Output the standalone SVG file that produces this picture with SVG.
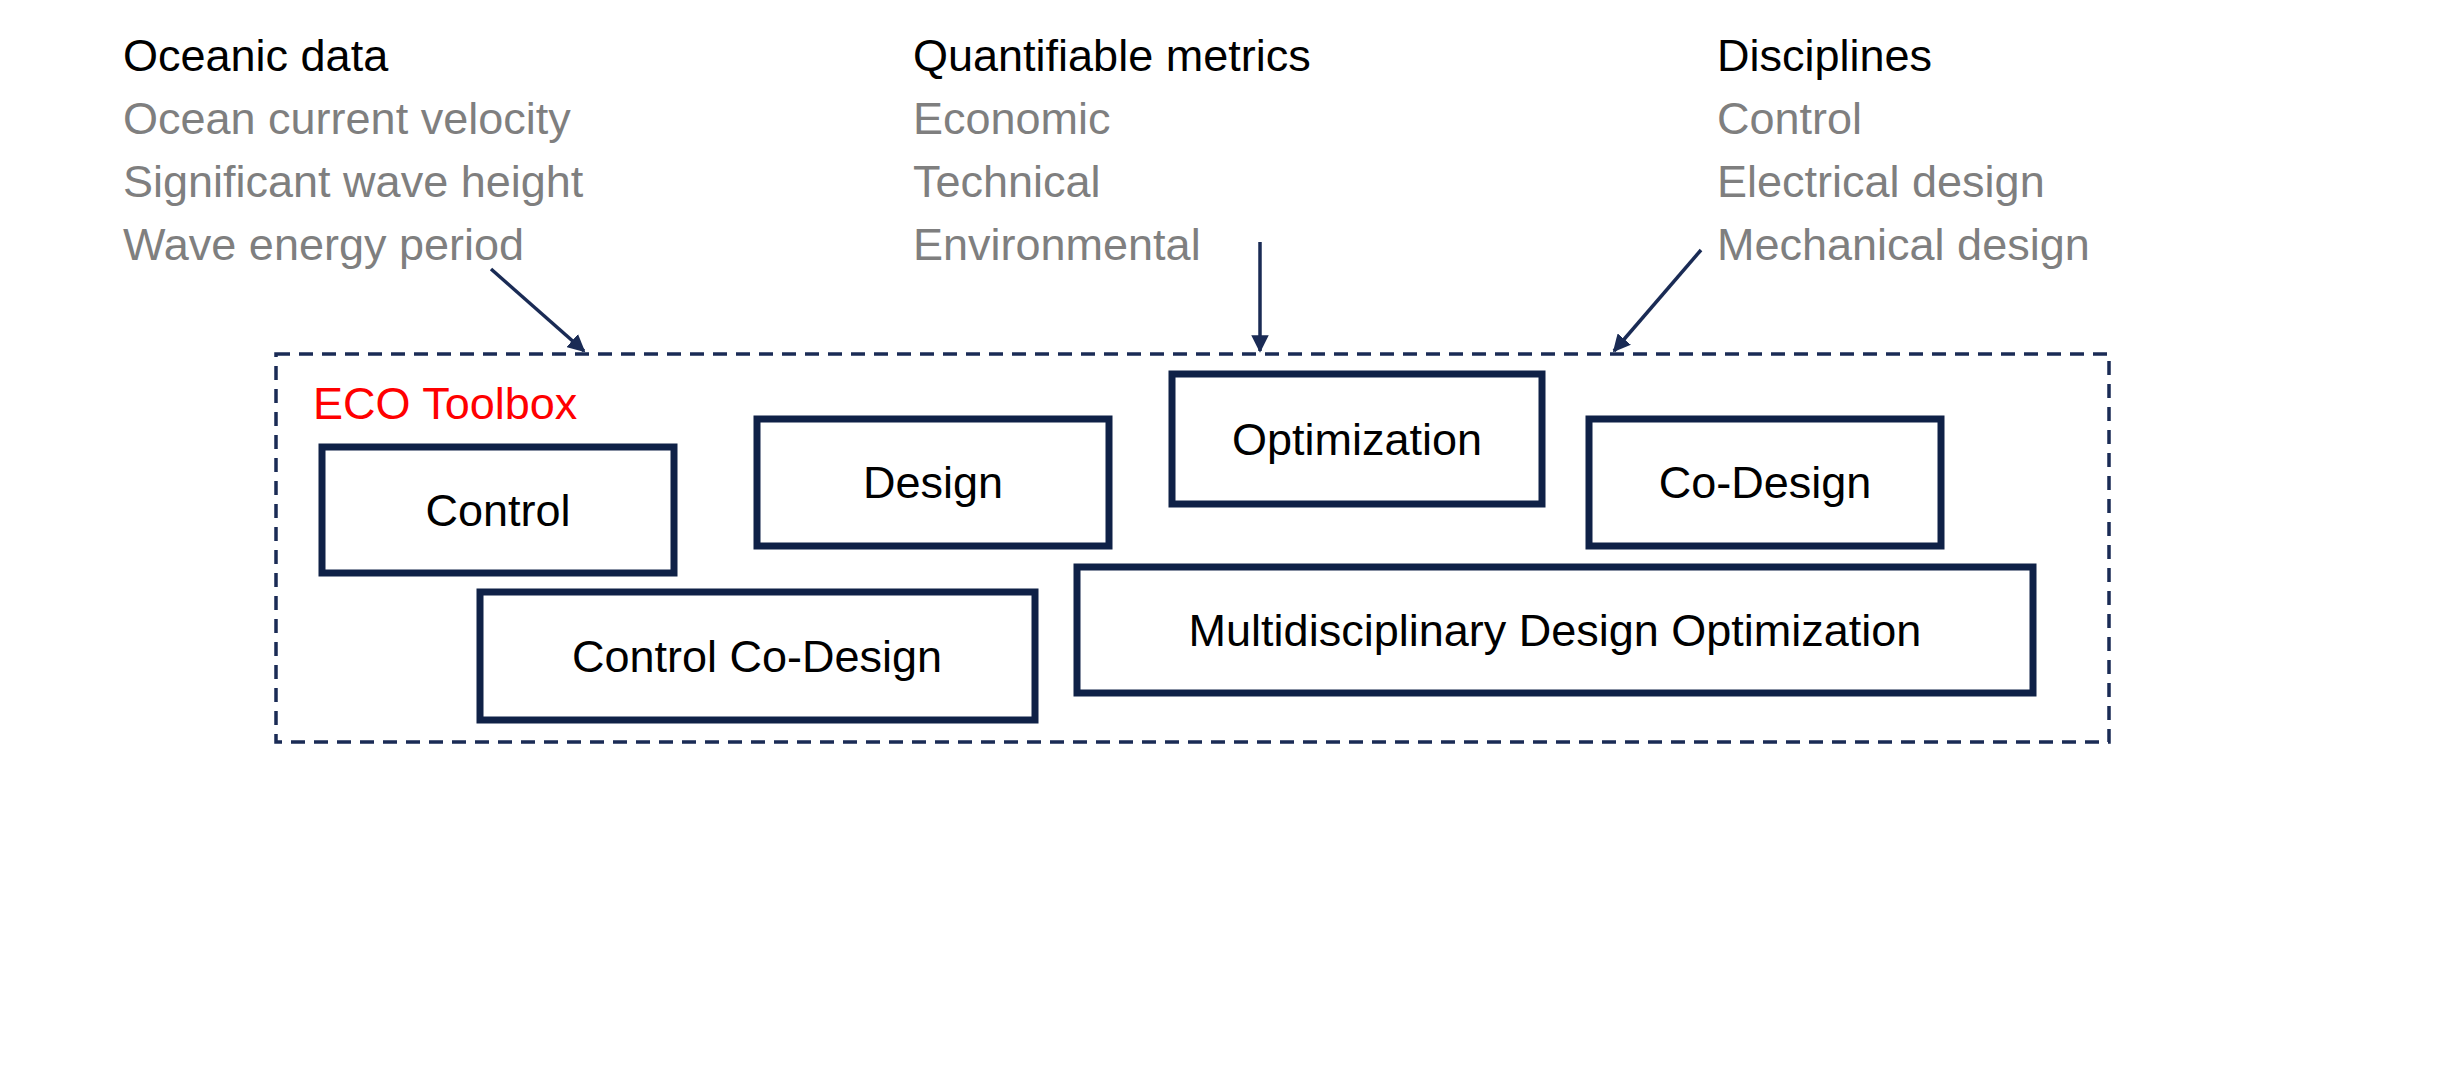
<svg xmlns="http://www.w3.org/2000/svg" width="2464" height="1080" viewBox="0 0 2464 1080">
<style>
text{font-family:"Liberation Sans",Arial,sans-serif;font-size:45px}
.h{fill:#000}.g{fill:#7f7f7f}
.n rect{fill:#fff;stroke:#0f2147;stroke-width:7}
.n text{fill:#000;text-anchor:middle;dominant-baseline:central}
.c{stroke:#1a2b55;stroke-width:3.5;fill:none;marker-end:url(#a)}
</style>
<defs><marker id="a" viewBox="0 0 10 10" refX="9" refY="5" markerWidth="5" markerHeight="5" orient="auto"><path d="M0,0L10,5L0,10z" fill="#1a2b55"/></marker></defs>
<rect width="2464" height="1080" fill="#fff"/>
<g id="oceanic"><text x="123" y="71" class="h">Oceanic data</text><text x="123" y="134" class="g">Ocean current velocity</text><text x="123" y="197" class="g">Significant wave height</text><text x="123" y="260" class="g">Wave energy period</text></g>
<g id="metrics"><text x="913" y="71" class="h">Quantifiable metrics</text><text x="913" y="134" class="g">Economic</text><text x="913" y="197" class="g">Technical</text><text x="913" y="260" class="g">Environmental</text></g>
<g id="disciplines"><text x="1717" y="71" class="h">Disciplines</text><text x="1717" y="134" class="g">Control</text><text x="1717" y="197" class="g">Electrical design</text><text x="1717" y="260" class="g">Mechanical design</text></g>
<g id="toolbox"><rect x="276" y="354" width="1833" height="388" fill="none" stroke="#1a2b55" stroke-width="3.5" stroke-dasharray="14,9"/><text x="313" y="419" fill="#ff0000">ECO Toolbox</text></g>
<g id="control" class="n"><rect x="322" y="447" width="352" height="126"/><text x="498" y="510">Control</text></g>
<g id="design" class="n"><rect x="757" y="419" width="352" height="127"/><text x="933" y="482">Design</text></g>
<g id="optimization" class="n"><rect x="1172" y="374" width="370" height="130"/><text x="1357" y="439">Optimization</text></g>
<g id="codesign" class="n"><rect x="1589" y="419" width="352" height="127"/><text x="1765" y="482">Co-Design</text></g>
<g id="ccd" class="n"><rect x="480" y="592" width="555" height="128"/><text x="757" y="656">Control Co-Design</text></g>
<g id="mdo" class="n"><rect x="1077" y="567" width="956" height="126"/><text x="1555" y="630">Multidisciplinary Design Optimization</text></g>
<g id="connectors"><path class="c" d="M491,269L584,351"/><path class="c" d="M1260,242L1260,351"/><path class="c" d="M1701,250L1614,351"/></g>
</svg>
